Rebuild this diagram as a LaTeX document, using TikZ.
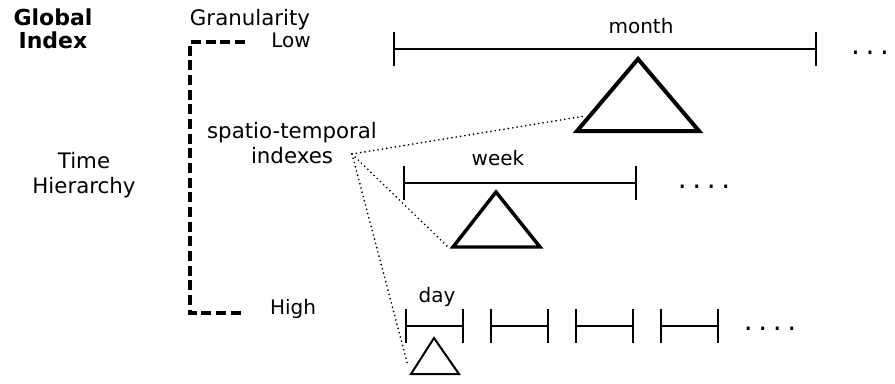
\documentclass[tikz,border=0pt]{standalone}
\usepackage{fontspec}
\setmainfont{DejaVu Sans}
\usetikzlibrary{positioning,arrows.meta}

\begin{document}
\begin{tikzpicture}[x=0.75pt, y=-0.75pt,
    txt/.style={font=\fontsize{16}{18.6}\selectfont, align=center, inner sep=0pt},
    head/.style={font=\bfseries\fontsize{16.5}{17.25}\selectfont, align=center, inner sep=0pt},
    level/.style={font=\fontsize{15}{17}\selectfont, inner sep=0pt},
    unit/.style={font=\fontsize{15}{17}\selectfont, inner sep=0pt},
    more/.style={font=\fontsize{21}{23}\selectfont, inner sep=0pt},
    period/.style={line width=1.6pt, {Bar[width=25.5pt]}-{Bar[width=25.5pt]}},
    tree/.style={line join=miter, line width=#1},
    bracket/.style={line width=2.5pt, dash pattern=on 7.5pt off 3.5pt},
    link/.style={line width=1.4pt, line cap=round, dash pattern=on 0pt off 3.3pt}]

\useasboundingbox (0,0) rectangle (895,383);

% left column
\node[head] (global) at (53,29) {Global\\Index};
\node[txt, anchor=base] (time) at (84,193) {Time\\Hierarchy};
\node[txt, anchor=base] (gran) at (250,25) {Granularity};
\node[level, anchor=base] (low) at (291,47) {Low};
\node[level, anchor=base] (high) at (293,314) {High};
\node[txt, anchor=base] (idx) at (292,163) {spatio-temporal\\indexes};

% granularity bracket
\draw[bracket] (245,42) -- (190,42) -- (190,313) -- (245,313);

% month
\draw[period] (393,49) -- (817,49);
\node[unit, anchor=base] (month) at (641,33) {month};
\node[more, anchor=base] (mdots) at (870,62) {·\hspace{4.2pt}·\hspace{4.2pt}·};
\draw[tree=3pt] (638,59) -- (699,131) -- (577,131) -- cycle;

% week
\draw[period] (403,183) -- (637,183);
\node[unit, anchor=base] (week) at (498,165) {week};
\node[more, anchor=base] (wdots) at (704,196) {·\hspace{4.2pt}·\hspace{4.2pt}·\hspace{4.2pt}·};
\draw[tree=2.6pt] (496,192) -- (540,247) -- (453,247) -- cycle;

% day
\foreach \x in {405,490,575,660}
  \draw[period] (\x,326) -- ++(59,0);
\node[unit, anchor=base] (day) at (437,302) {day};
\node[more, anchor=base] (ddots) at (770,338) {·\hspace{4.2pt}·\hspace{4.2pt}·\hspace{4.2pt}·};
\draw[tree=1.5pt] (434,338) -- (459,374) -- (411,374) -- cycle;

% dotted links to the trees
\coordinate (src) at (352,154);
\coordinate (mhit) at (585,116);
\coordinate (whit) at (449,248);
\coordinate (dhit) at (408,366);
\path[link] (src) edge (mhit) edge (whit) edge (dhit);
\end{tikzpicture}
\end{document}
